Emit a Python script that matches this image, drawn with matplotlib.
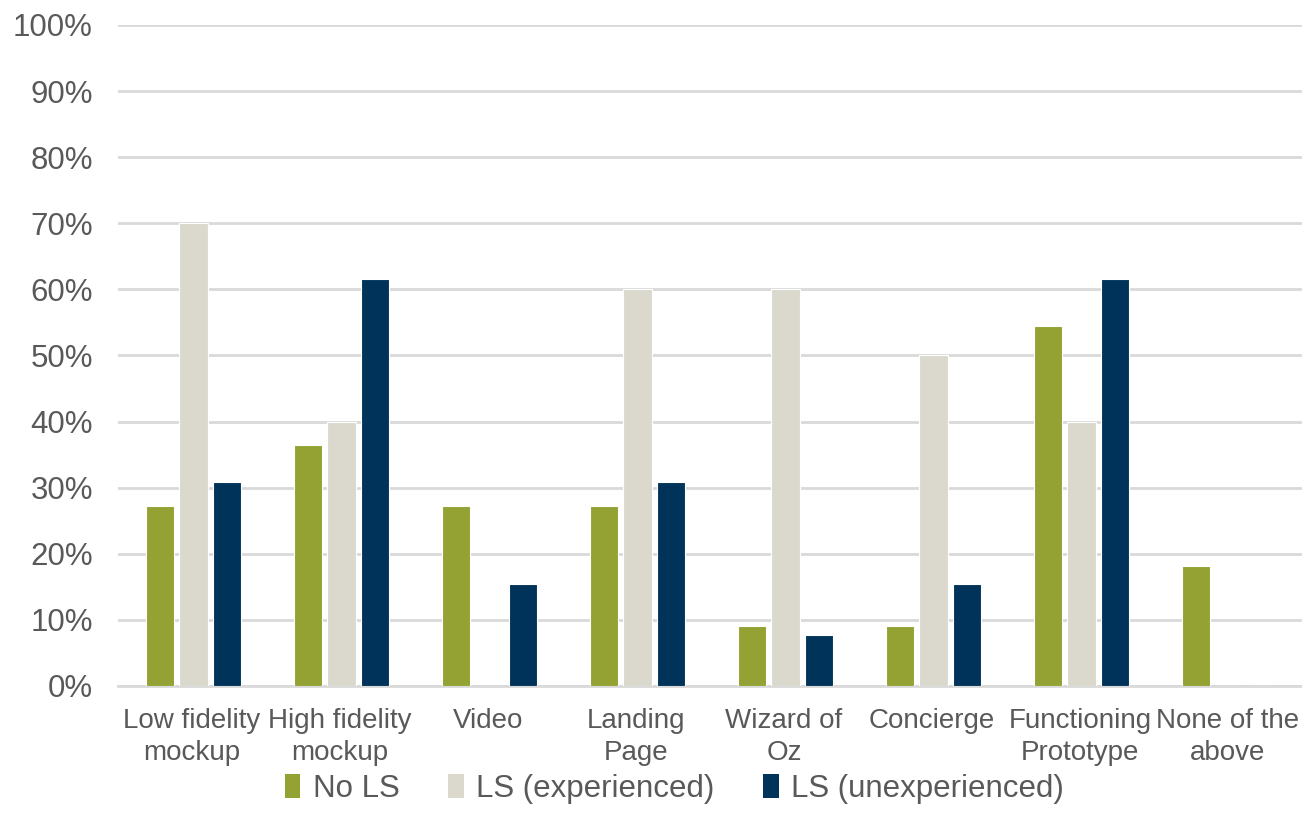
import numpy as np
import matplotlib.pyplot as plt
from matplotlib.ticker import PercentFormatter

plt.rcParams['font.family'] = ['Liberation Sans', 'DejaVu Sans']

categories = ["Low fidelity\nmockup", "High fidelity\nmockup", "Video", "Landing\nPage",
              "Wizard of\nOz", "Concierge", "Functioning\nPrototype", "None of the\nabove"]
no_ls = [27.3, 36.4, 27.3, 27.3, 9.1, 9.1, 54.5, 18.2]
ls_exp = [70, 40, 0, 60, 60, 50, 40, 0]
ls_unexp = [30.8, 61.5, 15.4, 30.8, 7.7, 15.4, 61.5, 0]
series_names = ["No LS", "LS (experienced)", "LS (unexperienced)"]
colors = ["#93a232", "#dbd9cd", "#003359"]

fig = plt.figure(figsize=(13.02, 8.32), dpi=100)
ax = fig.add_axes([0.0906, 0.1755, 0.9094, 0.7945])

x = np.arange(len(categories))
w = 0.19
off = 0.225
for i, (vals, name, c) in enumerate(zip([no_ls, ls_exp, ls_unexp], series_names, colors)):
    ax.bar(x + (i - 1) * off + 0.01, vals, width=w, color=c, edgecolor='white', linewidth=0.8,
           label=name, zorder=3)

ax.set_xlim(-0.5, len(categories) - 0.5)
ax.set_ylim(0, 100)
ax.set_yticks(np.arange(0, 101, 10))
ax.yaxis.set_major_formatter(PercentFormatter(decimals=0))
ax.grid(axis='y', color='#d9d9d9', linewidth=2, zorder=0)
ax.set_axisbelow(True)
for s in ['top', 'right', 'left']:
    ax.spines[s].set_visible(False)
ax.spines['bottom'].set_color('#d9d9d9')
ax.spines['bottom'].set_linewidth(2)
ax.set_xticks(x)
ax.set_xticklabels(categories, linespacing=1.3)
ax.tick_params(axis='both', length=0, labelcolor='#595959')
ax.tick_params(axis='x', labelsize=20, pad=16)
ax.tick_params(axis='y', labelsize=22.5, pad=18)

leg = fig.legend(loc='lower center', bbox_to_anchor=(0.518, 0.0), ncol=3, frameon=False,
                 fontsize=22.5, labelcolor='#595959', handlelength=0.5, handleheight=0.8,
                 handletextpad=0.4, columnspacing=1.55)
for h in leg.legend_handles:
    h.set_edgecolor('none')

fig.savefig("out.png", dpi=100)
